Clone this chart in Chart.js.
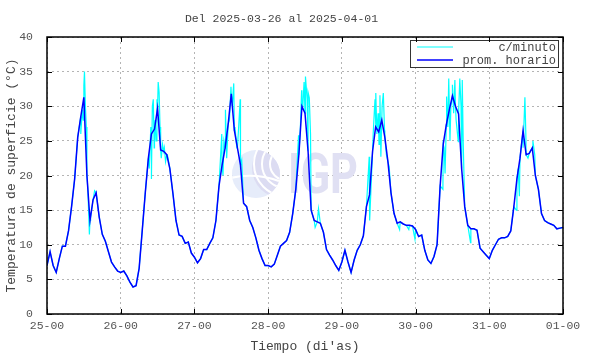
<!DOCTYPE html>
<html><head><meta charset="utf-8">
<script src="https://cdn.jsdelivr.net/npm/chart.js@4"></script>
<style>html,body{margin:0;padding:0;background:#fff}#wrap{width:590px;height:354px}</style>
</head><body><div id="wrap"><canvas id="c" width="590" height="354"></canvas></div>
<script>
const titleText = 'Del 2025-03-26 al 2025-04-01';
const tickLabels = ['25-00','26-00','27-00','28-00','29-00','30-00','31-00','01-00'];
const seriesNames = ['c/minuto','prom. horario'];

// hourly means (prom. horario), one array per day, 24 values each
const day1 = [7.0,9.0,7.0,6.0,8.0,9.8,9.8,12.0,15.5,19.5,25.5,28.5,31.3,20.0,13.5,16.5,17.5,14.0,11.5,10.5,9.0,7.5,6.8,6.2];
const day2 = [6.0,6.2,5.5,4.6,3.9,4.1,6.6,12.0,17.5,22.5,26.0,26.7,29.7,23.7,23.5,23.0,21.0,17.4,13.5,11.4,11.2,10.2,10.4,8.8];
const day3 = [8.2,7.4,8.0,9.3,9.3,10.2,11.0,13.5,18.5,21.5,24.0,27.5,31.8,26.5,24.0,21.5,16.0,15.5,13.5,12.5,11.0,9.2,8.0,7.0];
const day4 = [7.0,6.8,7.2,8.5,9.8,10.2,10.6,11.8,14.5,18.0,23.0,30.0,29.0,23.5,15.0,13.5,13.3,13.1,11.8,9.3,8.5,7.8,7.0,6.3];
const day5 = [7.5,9.2,7.5,6.0,7.8,9.2,10.0,11.3,15.5,17.2,23.5,27.0,26.3,28.0,25.5,22.0,17.5,14.5,13.1,13.3,13.0,12.8,12.8,12.7];
const day6 = [12.2,11.2,11.4,9.2,7.8,7.3,8.3,10.0,18.5,24.5,27.3,29.5,31.5,30.0,28.9,21.0,15.5,12.8,12.3,12.3,12.1,9.5,9.0,8.5];
const day7 = [8.0,9.2,10.0,10.8,11.0,11.0,11.2,12.0,15.5,19.5,22.5,26.5,23.0,23.2,24.0,20.0,18.0,14.5,13.5,13.2,13.0,12.8,12.3,12.4];
const lastValue = 12.5;

// per-minute excursions: [hour of day, value]
const spikes1 = [[10.5,27],[11.0,26],[11.5,29.5],[11.8,28],[12.0,33],[12.2,35],[12.5,30],[12.8,27],[13.3,18],[13.8,11.5],[14.2,14],[15.5,17.8]];
const spikes2 = [[9.3,21],[9.8,27],[10.0,19.5],[10.3,30],[10.6,31],[10.9,24],[11.2,28],[11.5,25],[11.8,31],[12.2,33.5],[12.5,32],[12.8,27],[13.2,22.5],[13.6,24.5],[14.2,24],[14.6,22],[15.2,23]];
const spikes3 = [[8.9,26],[9.3,20],[9.6,25],[10.1,29.5],[10.5,22.5],[10.9,26.5],[11.4,28],[11.9,32.8],[12.3,30],[12.8,33.3],[13.2,27],[13.8,24],[14.4,27],[14.9,31],[15.4,22.2]];
const spikes4 = [[9.9,25.8],[10.5,27],[10.9,32.3],[11.3,30],[11.7,33.5],[12.0,31.5],[12.3,34.3],[12.7,31],[13.0,32],[13.4,31.2],[13.8,26],[15.3,12.5],[16.4,15.2]];
const spikes5 = [[8.9,22.7],[9.1,13.5],[10.2,26],[10.6,29.5],[10.8,31],[11.1,31.9],[11.4,26],[11.8,29],[12.1,24.5],[12.4,31.6],[12.7,22.7],[13.1,30],[13.5,31.9],[13.9,26.5],[14.5,23],[15.4,21.3],[18.8,12.2],[21.8,12.2],[23.8,10.8]];
const spikes6 = [[8.9,18],[9.3,24],[9.6,20.3],[10.1,31.4],[10.5,27],[10.8,34],[11.2,25],[11.5,30],[12.0,33.1],[12.4,29],[12.8,33.8],[13.2,28],[13.9,24.9],[14.4,34],[14.8,30],[15.2,33.8],[15.5,25],[17.9,10.3]];
const spikes7 = [[8.8,15],[9.4,21],[9.8,17],[10.6,25],[11.0,24],[11.6,31.3],[11.9,26],[12.6,22.5],[14.2,25],[14.8,23]];

const hourly = [...day1,...day2,...day3,...day4,...day5,...day6,...day7,lastValue];
const hourPts = hourly.map((v,i)=>({x:i,y:v}));
const spikePts = [spikes1,spikes2,spikes3,spikes4,spikes5,spikes6,spikes7]
  .flatMap((s,d)=>s.map(p=>({x:d*24+p[0],y:p[1]})));
const minutePts = hourPts.concat(spikePts).sort((a,b)=>a.x-b.x);

const MONO = '"Liberation Mono", "DejaVu Sans Mono", monospace';

const decor = {
  id:'decor',
  beforeDatasetsDraw(chart){
    const ctx = chart.ctx, a = chart.chartArea;
    const cx = a.left + (a.right-a.left)*0.405, cy = a.top + (a.bottom-a.top)*0.495;
    ctx.save();
    ctx.beginPath(); ctx.arc(cx,cy,24,0,Math.PI*2); ctx.closePath();
    ctx.fillStyle = '#e6ecfa'; ctx.fill();
    ctx.save(); ctx.clip();
    ctx.fillStyle = '#dcdcf2';
    ctx.beginPath(); ctx.arc(cx+26,cy-6,30,0,Math.PI*2); ctx.fill();
    ctx.strokeStyle = '#ffffff'; ctx.lineWidth = 2;
    [16,24,32].forEach(r=>{ctx.beginPath(); ctx.arc(cx+30,cy-10,r,0,Math.PI*2); ctx.stroke();});
    ctx.beginPath(); ctx.moveTo(cx-26,cy+4); ctx.quadraticCurveTo(cx,cy-2,cx+26,cy+8); ctx.stroke();
    ctx.restore();
    ctx.font = 'bold 56px Roboto, "DejaVu Sans", sans-serif';
    const w = ctx.measureText('IGP').width;
    ctx.translate(cx+32, cy+19);
    ctx.scale(70/w,1);
    ctx.fillStyle = '#e0e0f3';
    ctx.textBaseline = 'alphabetic'; ctx.textAlign = 'left';
    ctx.fillText('IGP',0,0);
    ctx.restore();
  },
  afterDraw(chart){
    const ctx = chart.ctx, a = chart.chartArea;
    const xs = chart.scales.x, ys = chart.scales.y;
    ctx.save();
    // legend box
    const bw = 148, bh = 27, br = a.right - 5, bt = a.top + 3, bl = br - bw;
    ctx.fillStyle = '#fff'; ctx.fillRect(bl,bt,bw,bh);
    ctx.strokeStyle = '#333'; ctx.lineWidth = 1;
    ctx.strokeRect(bl+0.5,bt+0.5,bw,bh);
    const cols = ['#00ffff','#0000ff'];
    ctx.font = '12px ' + MONO; ctx.textAlign='right'; ctx.textBaseline='middle'; ctx.fillStyle='#444';
    seriesNames.forEach((n,i)=>{
      const y = bt + 7 + i*13;
      ctx.strokeStyle = cols[i]; ctx.lineWidth = i ? 1.5 : 1;
      ctx.beginPath(); ctx.moveTo(bl+7,y); ctx.lineTo(bl+43,y); ctx.stroke();
      ctx.fillText(n, br-2, y+0.5);
    });
    // frame
    ctx.strokeStyle = '#000'; ctx.lineWidth = 1.5;
    ctx.strokeRect(a.left, a.top, a.right-a.left, a.bottom-a.top);
    // inward ticks
    ctx.lineWidth = 1;
    xs.ticks.forEach(t=>{
      const x = Math.round(xs.getPixelForValue(t.value))+0.5;
      ctx.beginPath(); ctx.moveTo(x,a.bottom); ctx.lineTo(x,a.bottom-5);
      ctx.moveTo(x,a.top); ctx.lineTo(x,a.top+5); ctx.stroke();
    });
    ys.ticks.forEach(t=>{
      const y = Math.round(ys.getPixelForValue(t.value))+0.5;
      ctx.beginPath(); ctx.moveTo(a.left,y); ctx.lineTo(a.left+5,y);
      ctx.moveTo(a.right,y); ctx.lineTo(a.right-5,y); ctx.stroke();
    });
    ctx.restore();
  }
};

new Chart(document.getElementById('c'), {
  type:'line',
  data:{datasets:[
    {label:seriesNames[1], data:hourPts, borderColor:'#0000ff', borderWidth:1.5, pointRadius:0, tension:0, order:0},
    {label:seriesNames[0], data:minutePts, borderColor:'#00ffff', borderWidth:1.2, pointRadius:0, tension:0, order:1}
  ]},
  plugins:[decor],
  options:{
    responsive:false, animation:false, devicePixelRatio:1,
    layout:{padding:{left:0,right:27,top:0,bottom:0}},
    plugins:{
      legend:{display:false}, tooltip:{enabled:false},
      title:{display:true, text:titleText, color:'#444', font:{family:MONO,size:11.5,weight:'normal'}, padding:{top:12,bottom:11.2}}
    },
    scales:{
      x:{type:'linear', min:0, max:168,
        afterBuildTicks(s){ s.ticks = tickLabels.map((l,i)=>({value:i*24})); },
        afterFit(s){ s.height = 40; },
        ticks:{autoSkip:false, maxRotation:0, padding:5, color:'#555', font:{family:MONO,size:11.5},
          callback:(v,i)=>tickLabels[i]},
        grid:{color:'#b4b4b4', lineWidth:1, drawTicks:false},
        border:{display:false, dash:[2,3]},
        title:{display:true, text:'Tiempo (di\'as)', color:'#444', font:{family:MONO,size:13}, padding:{top:0,bottom:0}}
      },
      y:{min:0, max:40,
        afterFit(s){ s.width = 47; },
        ticks:{stepSize:5, padding:14, color:'#555', font:{family:MONO,size:11.5}},
        grid:{color:'#b4b4b4', lineWidth:1, drawTicks:false},
        border:{display:false, dash:[2,3]},
        title:{display:true, text:'Temperatura de superficie (°C)', color:'#444', font:{family:MONO,size:13}, padding:{top:4,bottom:0}}
      }
    }
  }
});
</script></body></html>
